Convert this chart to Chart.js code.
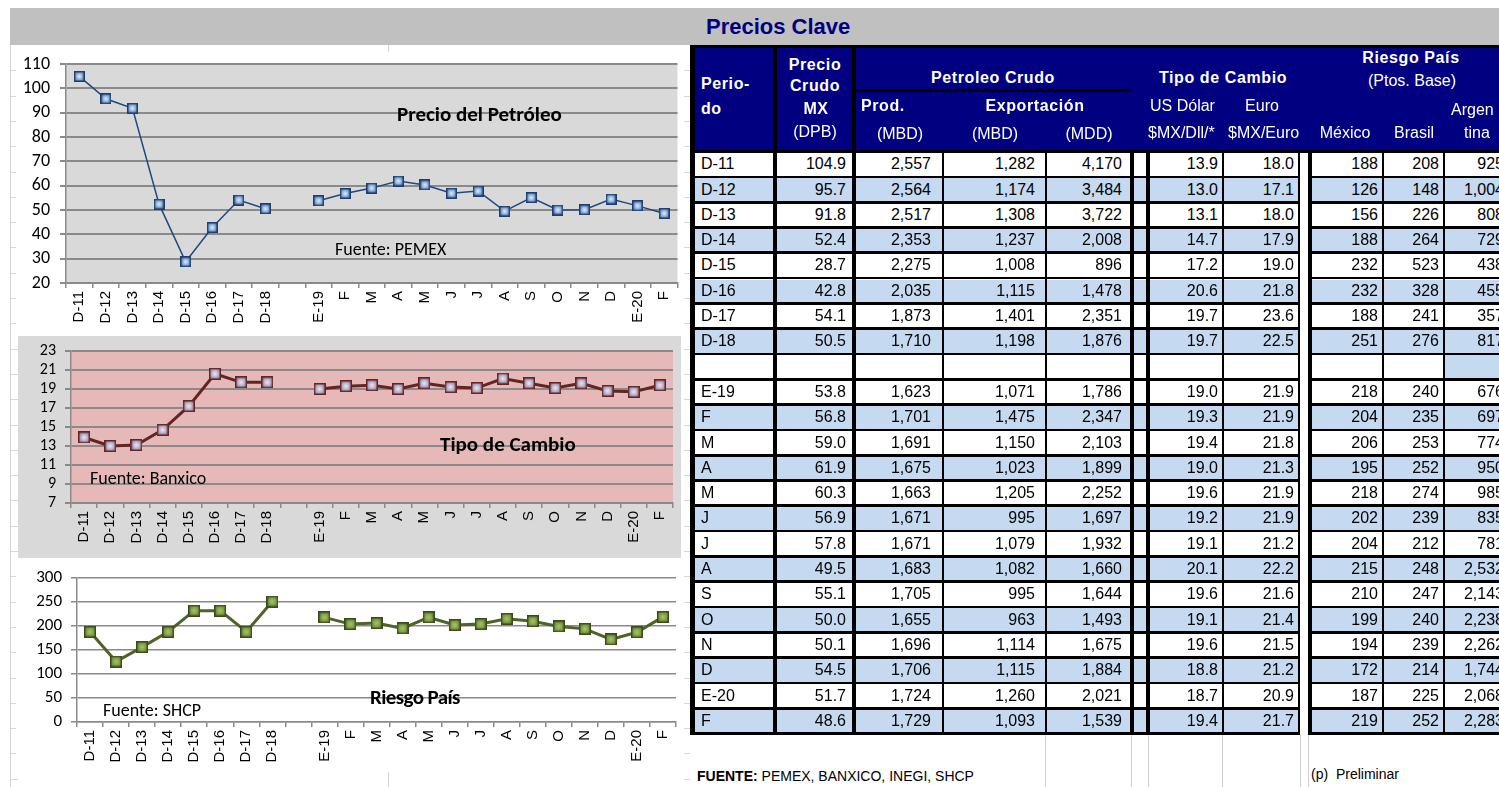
<!DOCTYPE html>
<html lang="es">
<head>
<meta charset="utf-8">
<title>Precios Clave</title>
<script src="https://cdn.jsdelivr.net/npm/chart.js"></script>
<style>
  html, body { margin: 0; padding: 0; }
  body { width: 1499px; height: 787px; overflow: hidden; position: relative; background: #fff;
         font-family: 'Liberation Sans', Arial, sans-serif; }
  .abs { position: absolute; }
  #band { left: 10px; top: 8px; width: 1489px; height: 37px; background: #c0c0c0; }
  #title { left: 706px; top: 16px; font: bold 22px 'Liberation Sans', Arial, sans-serif; color: #000080; line-height: 1; }
  .strip { position: absolute; top: 45px; height: 742px;
           background: repeating-linear-gradient(to bottom, transparent 0, transparent 24.3px, #d8d8d8 24.3px, #d8d8d8 25.3px);
           background-position: 0 1px; }
  .vl { position: absolute; width: 1px; background: #d4d4d4; }
  canvas { position: absolute; }
  .note { position: absolute; white-space: nowrap; line-height: 1; color: #000;
          font-family: Carlito, 'Liberation Sans Narrow', 'Liberation Sans', sans-serif; }
  .note.b { font-weight: bold; font-size: 21px; }
  .note.s { font-size: 18px; }
  #head { left: 690px; top: 45px; width: 809px; height: 108px; background: #000080; border-top: 3px solid #000;
          box-sizing: border-box; }
  .h { position: absolute; color: #fff; font-size: 16px; white-space: nowrap; line-height: 1; }
  .h.b { font-weight: bold; letter-spacing: 0.6px; }
  .h.c { transform: translateX(-50%); }
  .cell { position: absolute; box-sizing: border-box; font-size: 16px; white-space: nowrap; overflow: hidden;
          display: flex; align-items: center; color: #000; }
  .line { position: absolute; background: #000; }
  .gl { position: absolute; background: #cfcfcf; width: 1px; }
  #foot1 { left: 697px; top: 768px; font-size: 14px; }
  #foot2 { left: 1311px; top: 766px; font-size: 14px; }
</style>
</head>
<body>
<div class="strip" style="left:10px; width:8px;"></div>
<div class="strip" style="left:684px; width:6px;"></div>
<div class="vl" style="left:10px; top:45px; height:742px;"></div>
<div class="vl" style="left:388px; top:45px; height:7px;"></div>
<div class="vl" style="left:388px; top:772px; height:15px;"></div>
<div id="band" class="abs"></div>
<div id="title" class="abs">Precios Clave</div>

<canvas id="c1" width="668" height="286" style="left:16px; top:52px;"></canvas>
<canvas id="c2" width="663" height="222" style="left:18px; top:336px;"></canvas>
<canvas id="c3" width="668" height="205" style="left:16px; top:565px;"></canvas>

<div class="note b" style="left:397px; top:104px;">Precio del Petróleo</div>
<div class="note s" style="left:335px; top:240px;">Fuente: PEMEX</div>
<div class="note b" style="left:440px; top:434px;">Tipo de Cambio</div>
<div class="note s" style="left:90px; top:469px;">Fuente: Banxico</div>
<div class="note b" style="left:370px; top:687px; letter-spacing:-0.6px;">Riesgo País</div>
<div class="note s" style="left:103px; top:701px;">Fuente: SHCP</div>

<div id="head" class="abs"></div>
<div id="table"></div>

<div id="foot1" class="abs"><b>FUENTE:</b> PEMEX, BANXICO, INEGI, SHCP</div>
<div id="foot2" class="abs">(p)&nbsp; Preliminar</div>

<script>
// periods (same labels for the three charts and the table)
const periodos = ['D-11', 'D-12', 'D-13', 'D-14', 'D-15', 'D-16', 'D-17', 'D-18', '',
                  'E-19', 'F', 'M', 'A', 'M', 'J', 'J', 'A', 'S', 'O', 'N', 'D', 'E-20', 'F'];

const precioCrudo = [104.9, 95.7, 91.8, 52.4, 28.7, 42.8, 54.1, 50.5, null,
                     53.8, 56.8, 59.0, 61.9, 60.3, 56.9, 57.8, 49.5, 55.1, 50.0, 50.1, 54.5, 51.7, 48.6];
const produccion = [2557, 2564, 2517, 2353, 2275, 2035, 1873, 1710, null,
                    1623, 1701, 1691, 1675, 1663, 1671, 1671, 1683, 1705, 1655, 1696, 1706, 1724, 1729];
const exportMbd = [1282, 1174, 1308, 1237, 1008, 1115, 1401, 1198, null,
                   1071, 1475, 1150, 1023, 1205, 995, 1079, 1082, 995, 963, 1114, 1115, 1260, 1093];
const exportMdd = [4170, 3484, 3722, 2008, 896, 1478, 2351, 1876, null,
                   1786, 2347, 2103, 1899, 2252, 1697, 1932, 1660, 1644, 1493, 1675, 1884, 2021, 1539];
const usDolar = [13.9, 13.0, 13.1, 14.7, 17.2, 20.6, 19.7, 19.7, null,
                 19.0, 19.3, 19.4, 19.0, 19.6, 19.2, 19.1, 20.1, 19.6, 19.1, 19.6, 18.8, 18.7, 19.4];
const euro = [18.0, 17.1, 18.0, 17.9, 19.0, 21.8, 23.6, 22.5, null,
              21.9, 21.9, 21.8, 21.3, 21.9, 21.9, 21.2, 22.2, 21.6, 21.4, 21.5, 21.2, 20.9, 21.7];
const riesgoMexico = [188, 126, 156, 188, 232, 232, 188, 251, null,
                      218, 204, 206, 195, 218, 202, 204, 215, 210, 199, 194, 172, 187, 219];
const riesgoBrasil = [208, 148, 226, 264, 523, 328, 241, 276, null,
                      240, 235, 253, 252, 274, 239, 212, 248, 247, 240, 239, 214, 225, 252];
const riesgoArgentina = [925, 1004, 808, 729, 438, 455, 357, 817, null,
                         676, 697, 774, 950, 985, 835, 781, 2532, 2143, 2238, 2262, 1744, 2068, 2283];

// --- plot area background plugin ---
const plotBg = {
  id: 'plotBg',
  beforeDraw(chart, args, opts) {
    const { ctx, chartArea: a } = chart;
    ctx.save();
    ctx.fillStyle = opts.outer || '#fff';
    ctx.fillRect(0, 0, chart.width, chart.height);
    if (opts.color) {
      ctx.fillStyle = opts.color;
      ctx.fillRect(a.left, a.top, a.right - a.left, a.bottom - a.top);
    }
    ctx.restore();
  }
};

// small bevelled square markers like the Excel ones
function makeMarker(size, edge, face, glow) {
  const c = document.createElement('canvas');
  c.width = size; c.height = size;
  const g = c.getContext('2d');
  g.fillStyle = edge;
  g.fillRect(0, 0, size, size);
  const grad = g.createRadialGradient(size / 2, size / 2, 0, size / 2, size / 2, size / 2);
  grad.addColorStop(0, glow);
  grad.addColorStop(1, face);
  g.fillStyle = grad;
  g.fillRect(1.5, 1.5, size - 3, size - 3);
  return c;
}

const calibri = "Carlito, 'Liberation Sans Narrow', 'Liberation Sans', sans-serif";
const xFont = { family: "'Liberation Sans', Arial, sans-serif", size: 15 };

function buildChart(id, cfg) {
  return new Chart(document.getElementById(id), {
    type: 'line',
    data: {
      labels: periodos,
      datasets: [{
        data: cfg.data,
        borderColor: cfg.line,
        borderWidth: cfg.lineWidth,
        pointStyle: cfg.marker,
        pointRadius: 5,
        pointHoverRadius: 5,
        tension: 0,
        spanGaps: false
      }]
    },
    options: {
      responsive: false,
      animation: false,
      layout: { padding: cfg.padding },
      plugins: {
        legend: { display: false },
        tooltip: { enabled: false },
        plotBg: { color: cfg.plotColor, outer: cfg.outer }
      },
      scales: {
        x: {
          type: 'category',
          offset: true,
          grid: { offset: true, drawOnChartArea: false, tickLength: 5, color: '#8a8a8a', lineWidth: 1.5 },
          border: { color: '#8a8a8a', width: 1.5 },
          ticks: { minRotation: 90, maxRotation: 90, autoSkip: false, color: '#000', font: xFont, padding: 3 },
          afterFit: s => { s.height = cfg.xHeight; s.paddingLeft = 0; s.paddingRight = 0; }
        },
        y: {
          min: cfg.min, max: cfg.max,
          grid: { color: '#8a8a8a', lineWidth: cfg.gridWidth, tickLength: 6 },
          border: { color: '#8a8a8a', width: 1.5 },
          ticks: { stepSize: cfg.step, autoSkip: false, color: '#000',
                   font: { family: calibri, size: cfg.ySize }, padding: cfg.yPad },
          afterFit: s => { s.width = cfg.yWidth; s.paddingTop = 0; s.paddingBottom = 0; }
        }
      }
    },
    plugins: [plotBg]
  });
}

buildChart('c1', {
  data: precioCrudo, line: '#1f497d', lineWidth: 1.5,
  marker: makeMarker(11, '#1f3d6b', '#4f81bd', '#e3edf9'),
  padding: { top: 12, right: 6, left: 0, bottom: 0 },
  plotColor: '#d9d9d9', min: 20, max: 110, step: 10, gridWidth: 2,
  yWidth: 50, xHeight: 55, yPad: 10, ySize: 18
});

buildChart('c2', {
  data: usDolar, line: '#632523', lineWidth: 3,
  marker: makeMarker(12, '#632523', '#9185a8', '#eeeaf4'),
  padding: { top: 15, right: 7, left: 0, bottom: 0 },
  outer: '#d9d9d9', plotColor: '#e6b9b8', min: 7, max: 23, step: 2, gridWidth: 2,
  yWidth: 53, xHeight: 55, yPad: 9, ySize: 16
});

buildChart('c3', {
  data: riesgoMexico, line: '#4f6228', lineWidth: 3,
  marker: makeMarker(12, '#3b4a1e', '#67862f', '#a9c66c'),
  padding: { top: 13, right: 6, left: 0, bottom: 0 },
  plotColor: null, min: 0, max: 300, step: 50, gridWidth: 1.5,
  yWidth: 61, xHeight: 48, yPad: 9, ySize: 17
});

// --- table header ---
const headTexts = [
  ['Perio-', 701, 76, 'b'], ['do', 701, 101, 'b'],
  ['Precio', 815, 57, 'b c'], ['Crudo', 815, 78, 'b c'], ['MX', 816, 101, 'b c'], ['(DPB)', 815, 124, 'c'],
  ['Petroleo Crudo', 993, 70, 'b c'],
  ['Prod.', 861, 98, 'b'], ['Exportación', 1035, 98, 'b c'],
  ['(MBD)', 900, 126, 'c'], ['(MBD)', 995, 126, 'c'], ['(MDD)', 1089, 126, 'c'],
  ['Tipo de Cambio', 1223, 70, 'b c'],
  ['Riesgo País', 1411, 50, 'b c'], ['(Ptos. Base)', 1412, 73, 'c'],
  ['US Dólar', 1150, 98, ''], ['Euro', 1262, 98, 'c'],
  ['$MX/Dll/*', 1148, 125, ''], ['$MX/Euro', 1228, 125, ''],
  ['México', 1345, 125, 'c'], ['Brasil', 1414, 125, 'c'],
  ['Argen', 1451, 102, ''], ['tina', 1464, 125, '']
];
const tbl = document.getElementById('table');
function addDiv(cls, style, text) {
  const d = document.createElement('div');
  d.className = cls;
  Object.assign(d.style, style);
  if (text !== undefined) d.textContent = text;
  tbl.appendChild(d);
  return d;
}
headTexts.forEach(([t, x, y, cls]) => {
  addDiv('h ' + cls, { left: x + 'px', top: y + 'px' }, t);
});
// underline below "Petroleo Crudo"
addDiv('line', { left: '856px', top: '89px', width: '276px', height: '3px' });

// --- table body ---
const cols = [
  { l: 695, r: 773, v: periodos, fmt: v => v, left: true, pad: 6 },
  { l: 777, r: 852, v: precioCrudo, fmt: v => v.toFixed(1), pad: 6 },
  { l: 856, r: 942, v: produccion, fmt: v => v.toLocaleString('en-US'), pad: 11 },
  { l: 944, r: 1045, v: exportMbd, fmt: v => v.toLocaleString('en-US'), pad: 10 },
  { l: 1047, r: 1130, v: exportMdd, fmt: v => v.toLocaleString('en-US'), pad: 8 },
  { l: 1134, r: 1146, v: null },
  { l: 1150, r: 1222, v: usDolar, fmt: v => v.toFixed(1), pad: 4 },
  { l: 1224, r: 1298, v: euro, fmt: v => v.toFixed(1), pad: 4 },
  { l: 1312, r: 1382, v: riesgoMexico, fmt: v => String(v), pad: 4 },
  { l: 1384, r: 1443, v: riesgoBrasil, fmt: v => String(v), pad: 4 },
  { l: 1445, r: 1508, v: riesgoArgentina, fmt: v => v.toLocaleString('en-US'), pad: 4, argen: true }
];
const rowTop = 153, rowH = 25.3, rowLine = 2.8;
const blue = '#c5d9f1';
periodos.forEach((p, r) => {
  const top = rowTop + r * rowH;
  const shaded = r < 8 ? r % 2 === 1 : r > 8 && r % 2 === 0;
  cols.forEach(c => {
    let bg = shaded ? blue : '#fff';
    if (r === 8) bg = c.argen ? blue : '#fff';
    const val = c.v ? c.v[r] : null;
    const txt = (val === null || val === undefined || val === '') ? '' : c.fmt(val);
    addDiv('cell', {
      left: c.l + 'px', top: top + 'px', width: (c.r - c.l) + 'px', height: (rowH - rowLine) + 'px',
      background: bg, justifyContent: c.left ? 'flex-start' : 'flex-end',
      paddingLeft: c.left ? c.pad + 'px' : '0', paddingRight: c.left ? '0' : c.pad + 'px'
    }, txt);
  });
  // row bottom border, split at the gap column
  addDiv('line', { left: '690px', top: (top + rowH - rowLine) + 'px', width: '610px', height: rowLine + 'px' });
  addDiv('line', { left: '1308px', top: (top + rowH - rowLine) + 'px', width: '191px', height: rowLine + 'px' });
});
// header bottom border
addDiv('line', { left: '690px', top: '150px', width: '809px', height: '3px' });
// vertical borders
const bodyTop = 150, bodyBot = rowTop + periodos.length * rowH;
[[690, 5, 45], [773, 4, 45], [852, 4, 45], [942, 2], [1045, 2], [1130, 4], [1146, 4],
 [1222, 2], [1298, 2], [1308, 4], [1382, 2], [1443, 2]].forEach(([x, w, t]) => {
  const tp = t || bodyTop;
  addDiv('line', { left: x + 'px', top: tp + 'px', width: w + 'px', height: (bodyBot - tp) + 'px' });
});
// faint sheet lines below the table
[1045, 1131, 1148, 1222, 1300, 1308].forEach(x => {
  addDiv('gl', { left: x + 'px', top: bodyBot + 'px', height: (787 - bodyBot) + 'px' });
});
</script>
</body>
</html>
